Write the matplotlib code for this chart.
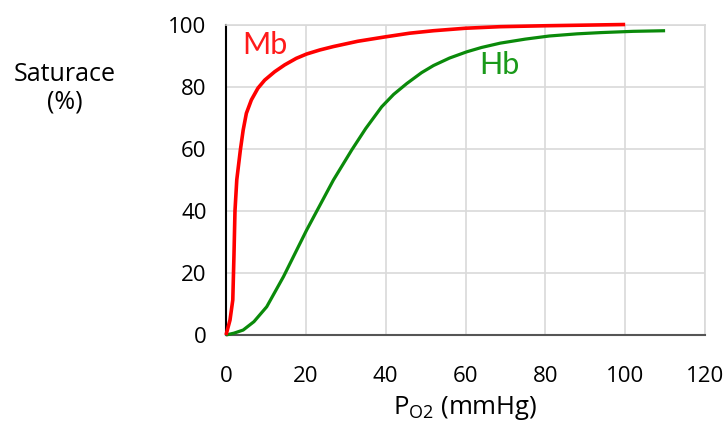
import matplotlib
matplotlib.use("Agg")
import matplotlib.pyplot as plt

# Oxygen saturation curves: myoglobin vs. haemoglobin
po2_mb = [0, 1.0, 1.7, 2.0, 2.25, 2.7, 3.6, 4.3, 5.1, 6.35, 8.0, 9.7, 12.2,
          14.7, 17.6, 20.2, 23.5, 26.9, 33, 39.8, 46, 52, 60, 68.7, 80, 90,
          100]
sat_mb = [0, 4.8, 11.3, 26, 40, 50, 59.6, 66, 71.4, 75.7, 79.5, 82.1, 84.8,
          87, 89.1, 90.5, 91.8, 92.9, 94.6, 96.0, 97.2, 98.0, 98.8, 99.3,
          99.6, 99.8, 100]

po2_hb = [0, 2, 4.3, 7, 10.2, 14.4, 20.2, 26.9, 31.5, 35, 39, 42, 45.3, 49,
          52, 56, 60.3, 64, 68.7, 75, 81, 88, 94, 102, 110]
sat_hb = [0, 0.6, 1.6, 4.3, 9.1, 18.8, 33.8, 49.9, 59.6, 66.5, 73.5, 77.5,
          81, 84.5, 86.8, 89.2, 91.2, 92.6, 94.0, 95.3, 96.3, 97.0, 97.4,
          97.8, 98.0]

x_ticks = [0, 20, 40, 60, 80, 100, 120]
y_ticks = [0, 20, 40, 60, 80, 100]

plt.rcParams["font.family"] = ["Open Sans", "DejaVu Sans"]
plt.rcParams["mathtext.fontset"] = "custom"
plt.rcParams["mathtext.rm"] = "Open Sans"

fig = plt.figure(figsize=(7.26, 4.33), dpi=100)
ax = fig.add_axes([0.3113, 0.2263, 0.6598, 0.7171])

grid_col = "#d9d9d9"
ax.plot(po2_hb, sat_hb, color="#0a8a0a", lw=2.3, clip_on=False,
        solid_capstyle="butt", zorder=3)
ax.plot(po2_mb, sat_mb, color="#ff0000", lw=2.6, clip_on=False,
        solid_capstyle="butt", zorder=4)

ax.text(9.8, 93.5, "Mb", color="#ff1a1a", fontsize=22, family="Lato",
        ha="center", va="center")
ax.text(68.5, 87.0, "Hb", color="#1a9a1a", fontsize=22, family="Lato",
        ha="center", va="center")

ax.set_xlim(0, 120)
ax.set_ylim(0, 100)
ax.set_xticks(x_ticks)
ax.set_yticks(y_ticks)
ax.tick_params(length=0, labelsize=16, colors="black")
ax.tick_params(axis="x", pad=22)
ax.tick_params(axis="y", pad=14)
ax.grid(True, color=grid_col, lw=1.2)
ax.set_axisbelow(True)

ax.spines["left"].set_color("black")
ax.spines["left"].set_linewidth(1.5)
ax.spines["bottom"].set_color("#555555")
ax.spines["bottom"].set_linewidth(1.5)
for side in ("top", "right"):
    ax.spines[side].set_color(grid_col)
    ax.spines[side].set_linewidth(1.2)

ax.set_xlabel(r"$\mathregular{P_{O2}}$ (mmHg)", fontsize=18.5, labelpad=5)
ax.set_ylabel("Saturace\n(%)", fontsize=18, rotation=0, ha="center",
              va="center", linespacing=1.15)
ax.yaxis.set_label_coords(-0.336, 0.795)

fig.savefig("out.png", dpi=100)
